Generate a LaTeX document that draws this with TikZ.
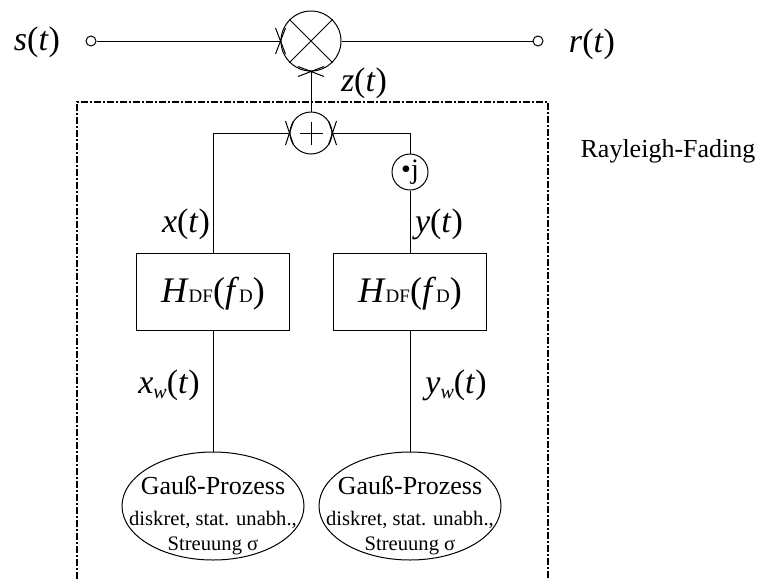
\documentclass[tikz,border=0pt]{standalone}
\usepackage{fontspec}
\setmainfont{Liberation Serif}
\usetikzlibrary{shapes.geometric}
\newcommand\mvar[1]{\textit{#1}}
\newcommand\crosstip[3]{\draw ([shift={(-#2,-#3)}]#1) -- ([shift={(#2,#3)}]#1) ([shift={(-#2,#3)}]#1) -- ([shift={(#2,-#3)}]#1);}
\begin{document}
\begin{tikzpicture}[x=1pt,y=-1pt,line width=1pt,
  lab/.style={inner sep=0pt,font=\fontsize{34}{40}\selectfont},
  hlab/.style={inner sep=0pt,font=\fontsize{36}{40}\selectfont},
  term/.style={circle,draw,minimum size=10pt,inner sep=0pt},
  filt/.style={draw,minimum width=153pt,minimum height=77pt,inner sep=0pt},
  gproc/.style={ellipse,draw,minimum width=182pt,minimum height=108pt,inner sep=0pt},
  bigtxt/.style={inner sep=0pt,anchor=base,font=\fontsize{26}{30}\selectfont},
  smalltxt/.style={inner sep=0pt,anchor=base,font=\fontsize{20.6}{24}\selectfont},
  dashbox/.style={line width=2pt,dash pattern=on 7pt off 2pt on 2pt off 2pt}]
\useasboundingbox (0,0) rectangle (760,579);
% top path
\node[lab] (s) at (37,42) {\mvar{s}(\mvar{t})};
\node[term] (sc) at (91,41) {};
\node[circle,draw,minimum size=60pt,inner sep=0pt] (mul) at (311,41) {};
\draw (mul.north west) -- (mul.south east) (mul.north east) -- (mul.south west);
\node[term] (rc) at (538,41) {};
\node[lab] (r) at (592,44) {\mvar{r}(\mvar{t})};
\node[lab] (z) at (364,83) {\mvar{z}(\mvar{t})};
% adder
\node[circle,draw,minimum size=42pt,inner sep=0pt] (add) at (311,133) {};
\draw ([xshift=-11.5pt]add.center) -- ([xshift=11.5pt]add.center)
      ([yshift=-11.5pt]add.center) -- ([yshift=11.5pt]add.center);
\node[circle,draw,minimum size=36pt,inner sep=0pt,font=\fontsize{28}{30}\selectfont] (mj) at (410,172) {•j};
% filters
\node[filt] (hx) at (213,291.5) {};
\node[hlab] (hxt) at (213,294) {\mvar{H}{\fontsize{19}{20}\selectfont DF}(\mvar{f}{\fontsize{19}{20}\selectfont D})};
\node[filt] (hy) at (410,291.5) {};
\node[hlab] (hyt) at (410,294) {\mvar{H}{\fontsize{19}{20}\selectfont DF}(\mvar{f}{\fontsize{19}{20}\selectfont D})};
% labels
\node[lab] (x) at (186,224) {\mvar{x}(\mvar{t})};
\node[lab] (y) at (439,224) {\mvar{y}(\mvar{t})};
\node[lab] (xw) at (169,385) {\mvar{x}\raisebox{-0.15em}{\fontsize{20}{20}\selectfont\itshape w}(\mvar{t})};
\node[lab] (yw) at (456,385) {\mvar{y}\raisebox{-0.15em}{\fontsize{20}{20}\selectfont\itshape w}(\mvar{t})};
% Gauss processes
\node[gproc] (gx) at (213,506) {};
\node[bigtxt] (gx1) at (213,494) {Gauß-Prozess};
\node[smalltxt] (gx2) at (213,525) {diskret, stat. unabh.,};
\node[smalltxt] (gx3) at (213,550) {Streuung σ};
\node[gproc] (gy) at (410,506) {};
\node[bigtxt] (gy1) at (410,494) {Gauß-Prozess};
\node[smalltxt] (gy2) at (410,525) {diskret, stat. unabh.,};
\node[smalltxt] (gy3) at (410,550) {Streuung σ};
\node[bigtxt] (ray) at (668,157) {Rayleigh-Fading};
% dashed frame
\coordinate (f1) at (77,579);
\coordinate (f2) at (77,102);
\coordinate (f3) at (548,102);
\coordinate (f4) at (548,579);
\draw[dashbox] (f1) -- (f2) -- (f3) -- (f4);
% connectors
\draw (sc) -- (mul);
\draw (mul) -- (rc);
\draw (add) -- (mul);
\draw (add.west) -| (hx.north);
\draw (add.east) -| (mj.north);
\draw (mj) -- (hy);
\draw (hx) -- (gx);
\draw (hy) -- (gy);
% entry marks
\crosstip{mul.west}{5}{13}
\crosstip{mul.south}{13}{5}
\crosstip{add.west}{4}{12}
\crosstip{add.east}{4}{12}
\end{tikzpicture}
\end{document}
